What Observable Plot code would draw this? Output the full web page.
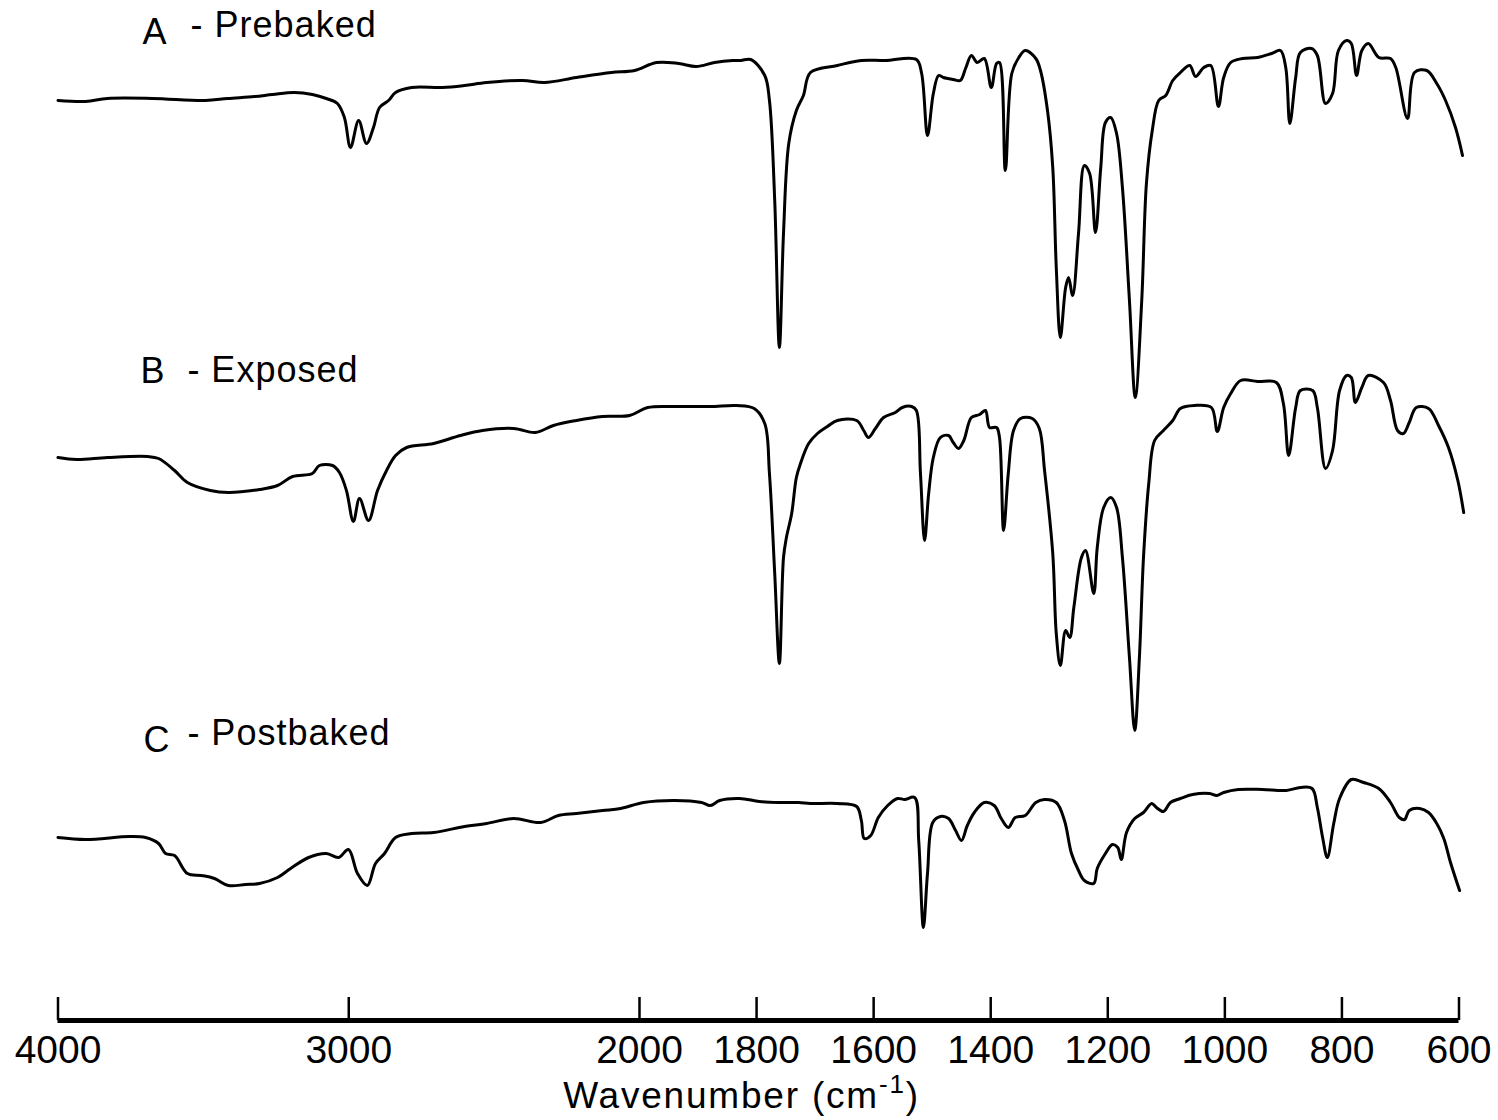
<!DOCTYPE html>
<html>
<head>
<meta charset="utf-8">
<script src="https://cdn.jsdelivr.net/npm/d3@7"></script>
<script src="https://cdn.jsdelivr.net/npm/@observablehq/plot@0.6"></script>
<style>
  html, body { margin: 0; padding: 0; background: #fff; }
  #chart svg { display: block; }
</style>
</head>
<body>
<div id="chart"></div>
<script>
// ---- Data: [wavenumber (cm^-1), relative transmittance (%)] ----
const prebaked = [[4000,85],[3905,84.75],[3830,85.5],[3675,85.5],[3493,85],[3417,85.5],[3324,86],[3262,86.5],[3187,87],[3125,86.5],[3077,85.5],[3039,84.25],[3015,80.75],[2994,73.25],[2966,80],[2939,74.25],[2915,78.25],[2894,83.25],[2863,85],[2839,87],[2784,88.25],[2678,88.25],[2602,88.75],[2526,89.5],[2402,90],[2327,89.5],[2217,90.75],[2096,92],[2017,92.5],[1971,94.5],[1933,94.25],[1903,93.5],[1872,94.5],[1841,95],[1827,95],[1810,95.25],[1786,91.25],[1778,85],[1769,60],[1761,23.25],[1754,51.75],[1745,74.25],[1732,82.5],[1720,86.25],[1708,92],[1662,93.75],[1621,95],[1580,95],[1527,95.25],[1518,91.75],[1508,76.25],[1498,86.75],[1489,91.25],[1481,90.75],[1464,90.25],[1452,90],[1443,93],[1433,96.25],[1423,94.5],[1411,95.5],[1399,88.25],[1390,94.25],[1385,94.5],[1375,67.5],[1364,91.75],[1352,95.75],[1341,97.5],[1323,95.5],[1315,92.5],[1303,82.5],[1294,68.25],[1288,43.25],[1281,25.75],[1272,38.25],[1267,40.75],[1260,36.25],[1250,51.75],[1240,68.75],[1231,66.75],[1221,52],[1212,68.25],[1204,79.5],[1195,80.75],[1185,76.75],[1175,63.25],[1163,35],[1153,10.75],[1142,35],[1134,64.25],[1124,77.5],[1113,85],[1101,86.25],[1089,90],[1076,92],[1060,93.75],[1050,91],[1036,93.25],[1024,93.75],[1011,83.5],[1002,90.75],[990,94.5],[970,95.5],[944,95.75],[920,96.75],[905,97.5],[896,93.25],[889,79.25],[879,90.75],[871,97],[852,98],[842,96.25],[828,84.25],[816,86.75],[806,97.5],[792,100],[784,99.25],[775,91.25],[766,97.5],[755,99.25],[737,95.75],[717,95.5],[708,93.25],[688,80.5],[676,92],[655,92.5],[638,89.25],[623,85],[606,78.25],[594,71.25]];

const exposed = [[4000,78.25],[3936,77.75],[3830,78.25],[3692,78.5],[3654,78],[3599,75],[3555,72],[3476,70],[3414,69.5],[3307,70.25],[3245,71.25],[3193,73.5],[3125,74.25],[3101,76.25],[3056,76.25],[3032,74.5],[3008,70],[2984,62.25],[2963,68],[2932,62.5],[2901,70],[2870,75],[2839,78.75],[2801,80.75],[2708,81.75],[2616,83.75],[2540,85],[2433,85.5],[2358,84.5],[2296,86.25],[2217,87.5],[2127,88.5],[2034,88.75],[1986,90.75],[1940,91],[1879,91],[1834,91.25],[1804,90.5],[1786,86.75],[1778,74.25],[1769,49.25],[1761,26.75],[1754,53.25],[1749,58.25],[1740,64.25],[1732,73.25],[1725,76.75],[1711,81.75],[1696,84.25],[1679,86],[1662,87.5],[1629,87.5],[1617,85],[1609,83.25],[1597,85.5],[1583,88.25],[1563,89.5],[1551,90.75],[1535,91],[1527,90],[1520,74.25],[1513,57.5],[1506,69.25],[1498,78.25],[1486,83.25],[1472,83.75],[1464,82],[1455,80.5],[1446,82.5],[1433,88.25],[1419,89],[1409,90],[1402,85.75],[1390,85.75],[1385,83.25],[1378,60],[1370,74.25],[1361,85],[1349,88],[1329,88],[1317,85.5],[1308,75],[1294,54.25],[1288,34.25],[1281,26.25],[1272,35],[1265,33.25],[1258,40.75],[1245,53.25],[1238,55],[1224,44.25],[1218,55.75],[1207,65.75],[1195,68.25],[1185,65.75],[1175,53.25],[1163,28.25],[1154,10],[1146,28.25],[1139,53.25],[1130,71.75],[1120,82.5],[1105,85],[1089,87.5],[1076,90.5],[1052,91.25],[1023,90.75],[1013,84.75],[1002,90.75],[990,94.25],[973,97.5],[944,97.25],[912,97],[900,91.75],[891,78.75],[879,90.75],[871,95],[850,95],[842,90.75],[828,75.5],[816,80],[804,95],[792,98.75],[784,98.25],[777,92],[766,95.75],[755,98.75],[729,97],[717,92.5],[705,85],[695,84.25],[685,87],[673,90.75],[652,90.5],[635,86.25],[618,80.75],[602,72.5],[592,64.5]];

const postbaked = [[4000,83.25],[3905,82.75],[3754,83.5],[3699,83.25],[3654,81.75],[3630,79.25],[3599,78.75],[3555,74.25],[3506,73.75],[3462,73],[3414,71.25],[3355,71.5],[3307,71.75],[3245,73.25],[3200,75.5],[3138,78.25],[3077,79.25],[3035,78.25],[3001,80.25],[2970,74.25],[2936,71.25],[2908,76.75],[2877,79.25],[2839,83.25],[2784,84.25],[2708,84.5],[2602,86],[2526,86.75],[2433,88],[2340,87],[2279,88.75],[2217,89.25],[2127,90],[2065,90.5],[1993,92],[1940,92.5],[1894,92],[1879,91.25],[1863,92.5],[1829,93],[1795,92.25],[1761,92],[1728,92],[1708,91.75],[1662,91.75],[1629,91],[1621,87.5],[1616,83],[1605,83.75],[1592,88.25],[1576,91.25],[1559,93],[1547,92.75],[1530,93.25],[1523,82.5],[1515,60.75],[1508,74.25],[1499,87],[1486,88.5],[1472,88],[1460,85],[1450,82.5],[1440,86.25],[1428,89.5],[1411,92],[1394,91.25],[1382,88],[1370,85.75],[1358,88.25],[1341,88.75],[1323,92],[1308,92.75],[1288,92],[1274,87.5],[1262,79.25],[1250,75],[1240,72.5],[1224,71.75],[1218,75.5],[1204,79.25],[1192,81.5],[1183,80.75],[1177,77.75],[1168,84.5],[1154,88],[1139,89.5],[1125,91.75],[1117,90.75],[1105,89.75],[1093,92],[1076,93],[1055,94],[1026,94.25],[1014,93.75],[1002,94.5],[977,95.25],[936,95.25],[895,95],[871,95.75],[851,95.5],[842,90.75],[833,83.25],[825,78.25],[814,86.75],[804,93],[784,97.75],[763,97],[737,95.5],[717,92],[702,88.25],[693,87.75],[685,90],[667,90.5],[652,89.5],[638,86.75],[626,83],[614,76.75],[599,70]];

const sampleLetters = ["A", "B", "C"];
const sampleNames = ["- Prebaked", "- Exposed", "- Postbaked"];
const xTicks = [4000, 3000, 2000, 1800, 1600, 1400, 1200, 1000, 800, 600];
const xTickLabels = ["4000", "3000", "2000", "1800", "1600", "1400", "1200", "1000", "800", "600"];
const xTitle = "Wavenumber (cm-1)";

// ---- Layout (vertical stacking of the three spectra) ----
const series = [prebaked, exposed, postbaked];
const offsets = [182.5, 100, 0];
const rows = series.flatMap((s, i) => s.map(([wn, t]) => ({sample: sampleLetters[i], wn, v: t + offsets[i]})));

const axisLevel = 37.5;      // level of the wavenumber axis line
const tickTop = 43.25;       // top of the tick marks
const fontFamily = "'Liberation Sans', Arial, Helvetica, sans-serif";

// labels: letter + name for each spectrum
const labelRows = [
  {t: sampleLetters[0], wn: 3709, v: 284.6},
  {t: sampleNames[0],   wn: 3544, v: 286.3},
  {t: sampleLetters[1], wn: 3716, v: 199.8},
  {t: sampleNames[1],   wn: 3555, v: 200.0},
  {t: sampleLetters[2], wn: 3706, v: 107.5},
  {t: sampleNames[2],   wn: 3555, v: 109.3}
];

const chart = Plot.plot({
  width: 1498,
  height: 1120,
  marginTop: 0, marginRight: 0, marginLeft: 0, marginBottom: 100,
  style: {fontFamily, background: "#fff", color: "#000"},
  x: {type: "linear", domain: [4000, 2000, 600], range: [57.5, 639, 1458.5], axis: null},
  y: {type: "linear", domain: [0, 292.5], range: [1170, 0], axis: null},
  marks: [
    Plot.line(rows, {x: "wn", y: "v", z: "sample", stroke: "#000", strokeWidth: 3, curve: "catmull-rom", strokeLinejoin: "round"}),
    Plot.ruleY([axisLevel], {x1: 4000, x2: 600, stroke: "#000", strokeWidth: 5}),
    Plot.ruleX(xTicks, {x: d => d, y1: axisLevel, y2: tickTop, stroke: "#000", strokeWidth: 2.5}),
    Plot.text(xTicks, {x: d => d, y: axisLevel, dy: 30, text: (d, i) => xTickLabels[i], fontSize: 39, fill: "#000"}),
    Plot.text([xTitle], {frameAnchor: "bottom", lineAnchor: "middle", dx: -8, dy: 76, text: d => d, fontSize: 37, fill: "#000", stroke: null}),
    Plot.text(labelRows, {x: "wn", y: "v", text: "t", textAnchor: "start", fontSize: 36, fill: "#000"})
  ]
});

document.getElementById("chart").appendChild(chart);

// letter spacing for the title and labels, and the "-1" of the unit as a superscript
d3.select(chart).selectAll("text").each(function () {
  const content = this.textContent;
  if (content === xTitle) {
    const el = d3.select(this);
    el.attr("letter-spacing", 1.8);
    el.text(null);
    el.append("tspan").text("Wavenumber (cm");
    el.append("tspan").attr("dy", "-15").attr("font-size", 26).text("-1");
    el.append("tspan").attr("dy", "15").text(")");
  } else if (sampleNames.includes(content)) {
    d3.select(this).attr("letter-spacing", 1);
  }
});
</script>
</body>
</html>
